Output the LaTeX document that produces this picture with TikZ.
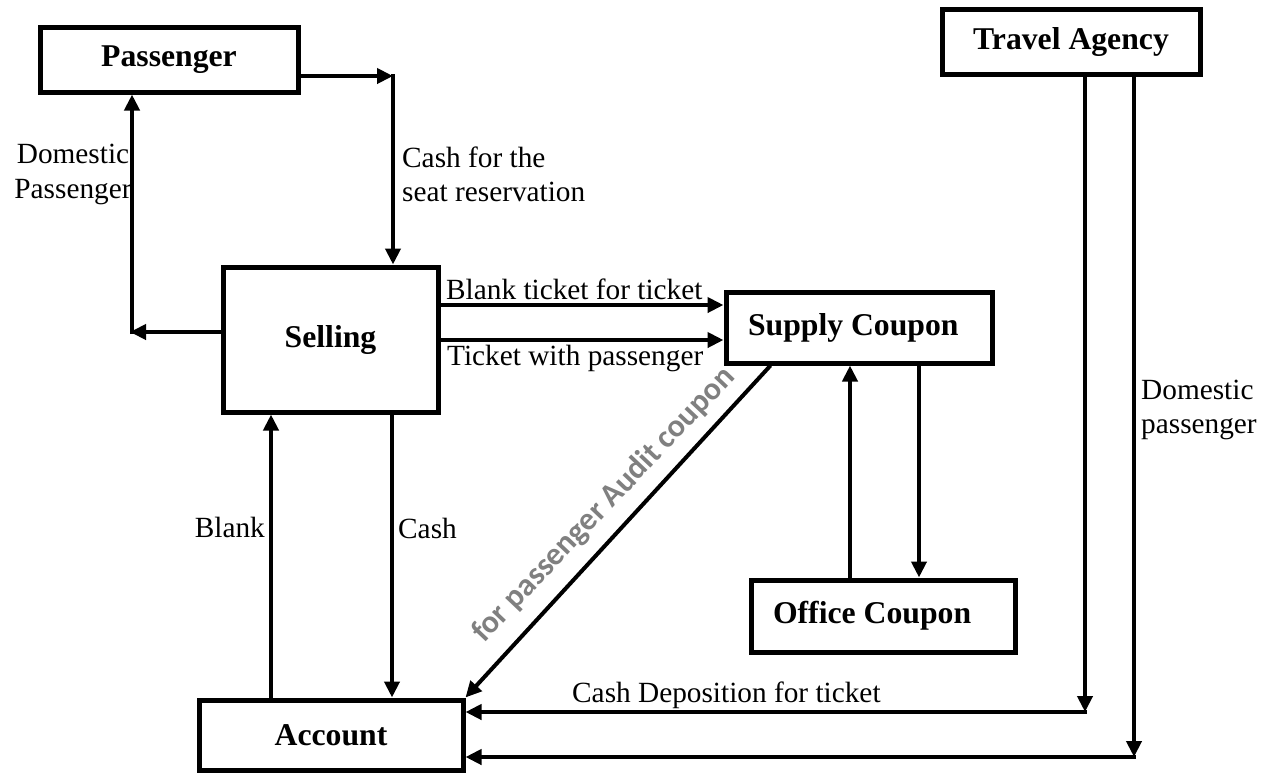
\documentclass[tikz,border=0pt]{standalone}
\usepackage{fontspec}
\setmainfont{Liberation Serif}
\newfontfamily\wordart{Carlito}
\usetikzlibrary{arrows.meta,calc}

\begin{document}
\begin{tikzpicture}[x=1pt,y=-1pt,
  box/.style={draw, line width=5pt, inner sep=0pt,
    font=\fontsize{31.7}{36}\selectfont\bfseries},
  leftbox/.style={box, inner xsep=22pt},
  arr/.style={line width=4pt, -{Triangle[length=16pt,width=15pt]}},
  lbl/.style={inner sep=0pt, font=\fontsize{29.3}{34.5}\selectfont},
  watermark/.style={inner sep=0pt, text=black!50,
    font=\wordart\bfseries\fontsize{32}{36}\selectfont},
]
\useasboundingbox (0,0) rectangle (1272,772);

% entities
\node[box, minimum width=258, minimum height=65] (pass)   at (169,59.5)  {Passenger};
\node[box, minimum width=258, minimum height=65] (agency) at (1071,41.5)  {Travel Agency};
\node[box, minimum width=215, minimum height=145] (sell)  at (330.5,339.5) {Selling};
\node[leftbox, minimum width=266, minimum height=71] (sup) at (859,327.5) {\makebox[222pt][l]{Supply Coupon}};
\node[leftbox, minimum width=264, minimum height=72] (off) at (883,616) {\makebox[220pt][l]{Office Coupon}};
\node[box, minimum width=264, minimum height=70] (acc)    at (331,735)   {Account};

% bends of the routed flows
\coordinate (c1) at (393,76);
\coordinate (c2) at (130,332);
\coordinate (t1) at (1085,712);
\coordinate (t2) at (1134,757);

% Passenger -> Selling
\draw[arr] (pass.east |- c1) -- (c1);
\draw[arr] ([yshift=2pt]c1) -- (c1 |- sell.north);
\node[lbl, anchor=west, align=left] (lcash) at (402,174.5) {Cash for the\\seat reservation};

% Selling -> Passenger
\draw[arr] (sell.west |- c2) -- (c2);
\draw[arr] ([xshift=2pt,yshift=-2pt]c2) -- ([xshift=2pt]c2 |- pass.south);
\node[lbl, align=center] (ldom) at (73,174.5) {Domestic\\Passenger};

% Selling -> Supply Coupon
\draw[arr] ([yshift=34.5pt]sell.east) -- ([yshift=34.5pt]sell.east -| sup.west);
\draw[arr] ([yshift=-0.5pt]sell.east) -- ([yshift=-0.5pt]sell.east -| sup.west);
\node[lbl, anchor=west] (lblank) at (446,289) {Blank ticket for ticket};
\node[lbl, anchor=west] (lticket) at (447,358) {Ticket with passenger};

% Supply Coupon -> Account
\draw[arr] ([xshift=47pt]sup.south west) -- (acc.north east);
\node[watermark, rotate=46.5] (laudit) at (604,505) {for passenger Audit coupon};

% Supply Coupon <-> Office Coupon
\draw[arr] ([xshift=-33pt]off.north) -- ([xshift=-33pt]off.north |- sup.south);
\draw[arr] ([xshift=60pt]sup.south) -- ([xshift=60pt]sup.south |- off.north);

% Selling <-> Account
\draw[arr] ([xshift=61.5pt]sell.south) -- ([xshift=61.5pt]sell.south |- acc.north);
\draw[arr] ([xshift=-60pt]acc.north) -- ([xshift=-60pt]acc.north |- sell.south);
\node[lbl, anchor=east] (lb) at (265,527) {Blank};
\node[lbl, anchor=west] (lc) at (398,528) {Cash};

% Travel Agency -> Account
\draw[arr] (agency.south -| t1) -- (t1);
\draw[arr] ([xshift=2pt]t1) -- (t1 -| acc.east);
\draw[arr] (agency.south -| t2) -- (t2);
\draw[arr] ([xshift=2pt]t2) -- (t2 -| acc.east);
\node[lbl, anchor=west] (ldep) at (572,695) {Cash Deposition for ticket};
\node[lbl, anchor=west, align=left] (ldp) at (1141,410) {Domestic\\passenger};
\end{tikzpicture}
\end{document}
